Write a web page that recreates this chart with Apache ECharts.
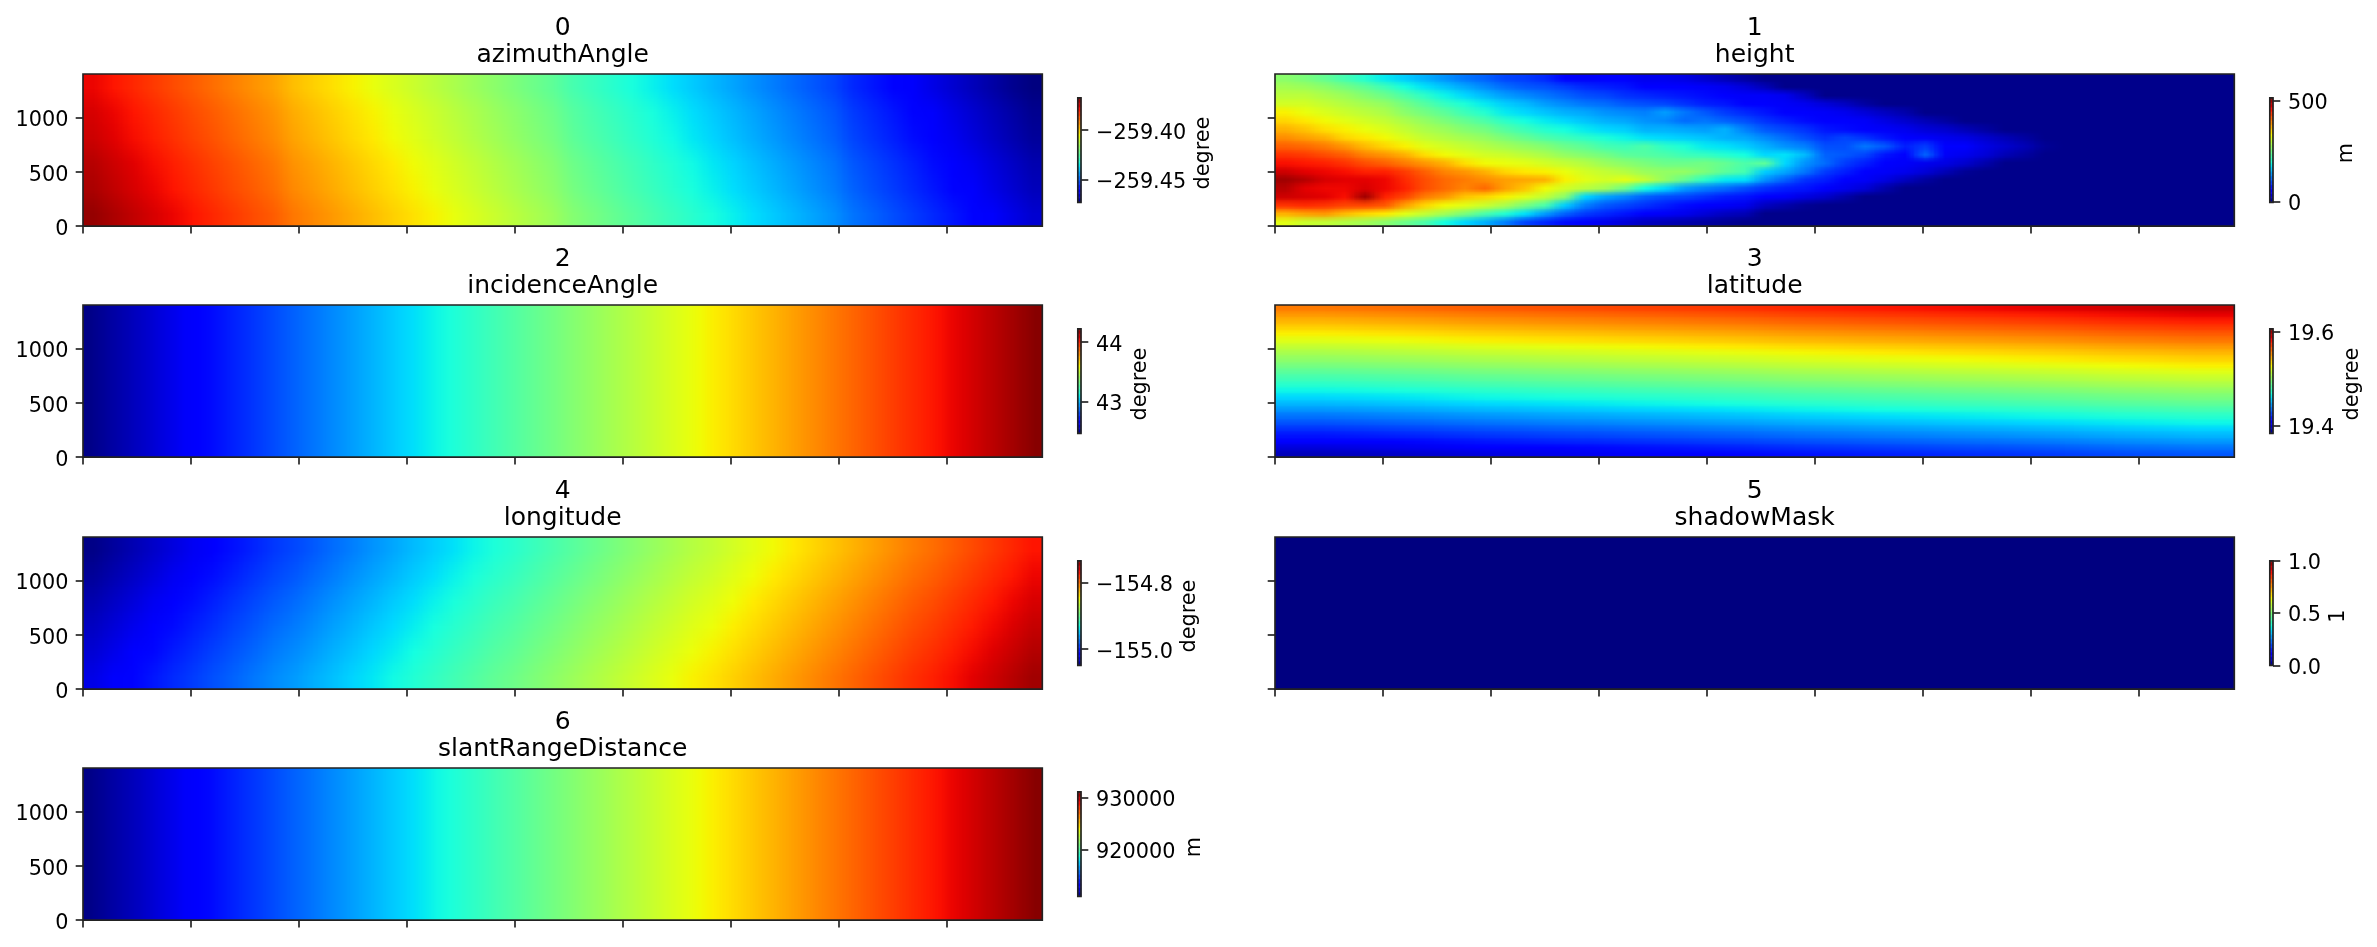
<!DOCTYPE html>
<html>
<head>
<meta charset="utf-8">
<style>html,body{margin:0;padding:0;background:#fff}#c{width:2377px;height:947px}</style>
<script src="https://cdn.jsdelivr.net/npm/echarts@6/dist/echarts.min.js"></script>
</head>
<body>
<div id="c"></div>
<script>
// rows run top to bottom, each row runs left to right
const azimuthRows = [
[-259.377,-259.379,-259.381,-259.383,-259.385,-259.387,-259.389,-259.391,-259.393,-259.395,-259.398,-259.400,-259.402,-259.404,-259.406,-259.408,-259.410,-259.412,-259.414,-259.416,-259.418,-259.420,-259.422,-259.424,-259.427,-259.429,-259.431,-259.433,-259.435,-259.437,-259.439,-259.441,-259.443,-259.445,-259.447,-259.449,-259.451,-259.453,-259.456,-259.458,-259.460,-259.462,-259.464,-259.466,-259.468,-259.470,-259.472,-259.474],
[-259.375,-259.377,-259.379,-259.381,-259.383,-259.385,-259.387,-259.389,-259.391,-259.393,-259.396,-259.398,-259.400,-259.402,-259.404,-259.406,-259.408,-259.410,-259.412,-259.414,-259.416,-259.418,-259.420,-259.422,-259.425,-259.427,-259.429,-259.431,-259.433,-259.435,-259.437,-259.439,-259.441,-259.443,-259.445,-259.447,-259.449,-259.451,-259.454,-259.456,-259.458,-259.460,-259.462,-259.464,-259.466,-259.468,-259.470,-259.472],
[-259.374,-259.376,-259.378,-259.380,-259.382,-259.384,-259.386,-259.388,-259.390,-259.392,-259.395,-259.397,-259.399,-259.401,-259.403,-259.405,-259.407,-259.409,-259.411,-259.413,-259.415,-259.417,-259.419,-259.421,-259.424,-259.426,-259.428,-259.430,-259.432,-259.434,-259.436,-259.438,-259.440,-259.442,-259.444,-259.446,-259.448,-259.450,-259.453,-259.455,-259.457,-259.459,-259.461,-259.463,-259.465,-259.467,-259.469,-259.471],
[-259.372,-259.374,-259.376,-259.378,-259.380,-259.382,-259.384,-259.386,-259.388,-259.390,-259.393,-259.395,-259.397,-259.399,-259.401,-259.403,-259.405,-259.407,-259.409,-259.411,-259.413,-259.415,-259.417,-259.419,-259.422,-259.424,-259.426,-259.428,-259.430,-259.432,-259.434,-259.436,-259.438,-259.440,-259.442,-259.444,-259.446,-259.448,-259.451,-259.453,-259.455,-259.457,-259.459,-259.461,-259.463,-259.465,-259.467,-259.469],
[-259.371,-259.373,-259.375,-259.377,-259.379,-259.381,-259.383,-259.385,-259.387,-259.389,-259.392,-259.394,-259.396,-259.398,-259.400,-259.402,-259.404,-259.406,-259.408,-259.410,-259.412,-259.414,-259.416,-259.418,-259.421,-259.423,-259.425,-259.427,-259.429,-259.431,-259.433,-259.435,-259.437,-259.439,-259.441,-259.443,-259.445,-259.447,-259.450,-259.452,-259.454,-259.456,-259.458,-259.460,-259.462,-259.464,-259.466,-259.468],
[-259.369,-259.371,-259.373,-259.375,-259.377,-259.379,-259.381,-259.383,-259.385,-259.387,-259.390,-259.392,-259.394,-259.396,-259.398,-259.400,-259.402,-259.404,-259.406,-259.408,-259.410,-259.412,-259.414,-259.416,-259.419,-259.421,-259.423,-259.425,-259.427,-259.429,-259.431,-259.433,-259.435,-259.437,-259.439,-259.441,-259.443,-259.445,-259.448,-259.450,-259.452,-259.454,-259.456,-259.458,-259.460,-259.462,-259.464,-259.466]
];
// height is listed column by column, each column top to bottom
const heightColumns = [
[265,280,295,310,335,350,370,390,415,440,460,480,500,490,480,440,370,320],
[255,275,295,310,325,340,360,380,410,435,455,470,490,470,475,445,380,305],
[240,265,285,300,315,330,345,370,400,425,450,465,475,465,470,440,385,300],
[220,250,275,290,305,320,335,350,385,415,440,460,470,465,460,430,365,290],
[200,235,260,280,295,310,325,340,365,395,425,450,470,475,500,430,350,280],
[180,215,245,270,285,300,315,330,350,385,415,450,465,465,450,420,340,265],
[165,190,225,250,265,285,300,315,335,370,400,435,445,450,430,380,320,245],
[150,175,205,230,250,270,285,300,320,345,385,415,425,425,400,350,300,225],
[135,160,185,210,235,255,275,290,310,330,370,395,410,410,385,330,280,190],
[120,145,170,195,215,240,260,280,300,320,345,385,400,395,360,320,255,170],
[110,130,155,180,200,225,250,270,290,310,330,370,390,410,350,305,225,150],
[95,115,140,165,180,205,230,255,280,305,325,350,380,380,335,285,200,125],
[90,105,130,155,170,190,215,240,270,295,320,340,375,360,320,255,175,95],
[80,100,120,140,160,180,200,225,260,285,310,335,370,330,300,225,140,80],
[60,90,110,130,150,170,190,215,245,270,300,325,335,310,265,165,110,65],
[50,80,100,120,145,160,180,205,235,260,290,310,320,295,170,125,90,55],
[55,75,95,115,135,150,170,195,220,250,275,300,310,280,145,105,80,45],
[55,70,85,105,130,145,165,185,215,235,265,290,320,245,130,95,70,35],
[45,60,80,100,125,135,150,175,225,230,255,275,300,190,110,85,60,25],
[45,60,75,95,140,130,150,170,205,225,245,270,270,170,100,75,50,20],
[40,55,70,85,120,115,145,165,195,215,245,270,240,140,95,65,45,15],
[30,50,65,75,105,120,140,160,180,210,250,255,205,125,85,60,35,10],
[20,45,55,70,90,110,150,150,175,200,240,235,180,115,75,50,25,5],
[10,35,50,60,80,100,125,145,165,190,225,220,175,100,70,45,20,0],
[0,20,50,55,70,85,105,130,150,170,235,165,135,85,60,25,0,0],
[0,0,45,50,60,75,95,115,135,175,170,145,110,75,50,15,0,0],
[0,0,25,45,55,65,85,100,125,155,135,120,85,70,40,5,0,0],
[0,0,0,35,50,60,70,85,100,110,115,90,75,60,30,0,0,0],
[0,0,0,25,45,55,65,95,100,105,90,75,60,45,15,0,0,0],
[0,0,0,10,35,50,60,85,120,95,75,60,50,35,0,0,0,0],
[0,0,0,0,25,40,50,70,105,70,60,50,40,15,0,0,0,0],
[0,0,0,0,15,30,45,55,75,60,50,45,25,0,0,0,0,0],
[0,0,0,0,0,20,35,50,90,110,45,35,10,0,0,0,0,0],
[0,0,0,0,0,10,30,45,55,50,40,20,0,0,0,0,0,0],
[0,0,0,0,0,0,20,40,55,45,30,5,0,0,0,0,0,0],
[0,0,0,0,0,0,10,30,40,35,15,0,0,0,0,0,0,0],
[0,0,0,0,0,0,0,20,30,20,0,0,0,0,0,0,0,0],
[0,0,0,0,0,0,0,10,20,10,0,0,0,0,0,0,0,0],
[0,0,0,0,0,0,0,0,5,0,0,0,0,0,0,0,0,0],
[0,0,0,0,0,0,0,0,0,0,0,0,0,0,0,0,0,0],
[0,0,0,0,0,0,0,0,0,0,0,0,0,0,0,0,0,0],
[0,0,0,0,0,0,0,0,0,0,0,0,0,0,0,0,0,0],
[0,0,0,0,0,0,0,0,0,0,0,0,0,0,0,0,0,0],
[0,0,0,0,0,0,0,0,0,0,0,0,0,0,0,0,0,0],
[0,0,0,0,0,0,0,0,0,0,0,0,0,0,0,0,0,0],
[0,0,0,0,0,0,0,0,0,0,0,0,0,0,0,0,0,0],
[0,0,0,0,0,0,0,0,0,0,0,0,0,0,0,0,0,0],
[0,0,0,0,0,0,0,0,0,0,0,0,0,0,0,0,0,0]
];
const incidenceRows = [
[42.486,42.508,42.530,42.552,42.574,42.595,42.617,42.639,42.661,42.683,42.705,42.727,42.749,42.770,42.792,42.814,42.836,42.858,42.880,42.902,42.924,42.945,42.967,42.989,43.011,43.033,43.055,43.077,43.099,43.120,43.142,43.164,43.186,43.208,43.230,43.252,43.274,43.295,43.317,43.339,43.361,43.383,43.405,43.427,43.449,43.470,43.492,43.514,43.536,43.558,43.580,43.602,43.624,43.645,43.667,43.689,43.711,43.733,43.755,43.777,43.799,43.820,43.842,43.864,43.886,43.908,43.930,43.952,43.974,43.995,44.017,44.039,44.061,44.083,44.105,44.127,44.149,44.170,44.192,44.214]
];
const latitudeRows = [
[19.557,19.560,19.564,19.567,19.570,19.573,19.577,19.580,19.583,19.586,19.590,19.593],
[19.550,19.553,19.557,19.560,19.563,19.566,19.570,19.573,19.576,19.579,19.583,19.586],
[19.543,19.546,19.550,19.553,19.556,19.559,19.563,19.566,19.569,19.572,19.576,19.579],
[19.536,19.539,19.543,19.546,19.549,19.552,19.556,19.559,19.562,19.565,19.569,19.572],
[19.529,19.532,19.536,19.539,19.542,19.545,19.549,19.552,19.555,19.558,19.562,19.565],
[19.522,19.525,19.529,19.532,19.535,19.538,19.542,19.545,19.548,19.551,19.555,19.558],
[19.514,19.517,19.521,19.524,19.527,19.530,19.534,19.537,19.540,19.543,19.547,19.550],
[19.507,19.510,19.514,19.517,19.520,19.523,19.527,19.530,19.533,19.536,19.540,19.543],
[19.500,19.503,19.507,19.510,19.513,19.516,19.520,19.523,19.526,19.529,19.533,19.536],
[19.493,19.496,19.500,19.503,19.506,19.509,19.513,19.516,19.519,19.522,19.526,19.529],
[19.486,19.489,19.493,19.496,19.499,19.502,19.506,19.509,19.512,19.515,19.519,19.522],
[19.479,19.482,19.486,19.489,19.492,19.495,19.499,19.502,19.505,19.508,19.512,19.515],
[19.472,19.475,19.479,19.482,19.485,19.488,19.492,19.495,19.498,19.501,19.505,19.508],
[19.465,19.468,19.472,19.475,19.478,19.481,19.485,19.488,19.491,19.494,19.498,19.501],
[19.458,19.461,19.465,19.468,19.471,19.474,19.478,19.481,19.484,19.487,19.491,19.494],
[19.451,19.454,19.458,19.461,19.464,19.467,19.471,19.474,19.477,19.480,19.484,19.487],
[19.444,19.447,19.451,19.454,19.457,19.460,19.464,19.467,19.470,19.473,19.477,19.480],
[19.436,19.439,19.443,19.446,19.449,19.452,19.456,19.459,19.462,19.465,19.469,19.472],
[19.429,19.432,19.436,19.439,19.442,19.445,19.449,19.452,19.455,19.458,19.462,19.465],
[19.422,19.425,19.429,19.432,19.435,19.438,19.442,19.445,19.448,19.451,19.455,19.458],
[19.415,19.418,19.422,19.425,19.428,19.431,19.435,19.438,19.441,19.444,19.448,19.451],
[19.408,19.411,19.415,19.418,19.421,19.424,19.428,19.431,19.434,19.437,19.441,19.444],
[19.401,19.404,19.408,19.411,19.414,19.417,19.421,19.424,19.427,19.430,19.434,19.437],
[19.394,19.397,19.401,19.404,19.407,19.410,19.414,19.417,19.420,19.423,19.427,19.430]
];
const longitudeRows = [
[-155.047,-155.041,-155.035,-155.029,-155.023,-155.017,-155.011,-155.005,-154.999,-154.993,-154.988,-154.982,-154.976,-154.970,-154.964,-154.958,-154.952,-154.946,-154.940,-154.934,-154.928,-154.923,-154.917,-154.911,-154.905,-154.899,-154.893,-154.887,-154.881,-154.875,-154.869,-154.864,-154.858,-154.852,-154.846,-154.840,-154.834,-154.828,-154.822,-154.816,-154.810,-154.804,-154.799,-154.793,-154.787,-154.781,-154.775,-154.769],
[-155.042,-155.036,-155.030,-155.024,-155.018,-155.012,-155.006,-155.000,-154.994,-154.988,-154.983,-154.977,-154.971,-154.965,-154.959,-154.953,-154.947,-154.941,-154.935,-154.929,-154.923,-154.918,-154.912,-154.906,-154.900,-154.894,-154.888,-154.882,-154.876,-154.870,-154.864,-154.859,-154.853,-154.847,-154.841,-154.835,-154.829,-154.823,-154.817,-154.811,-154.805,-154.799,-154.794,-154.788,-154.782,-154.776,-154.770,-154.764],
[-155.036,-155.030,-155.024,-155.018,-155.012,-155.006,-155.000,-154.994,-154.988,-154.982,-154.977,-154.971,-154.965,-154.959,-154.953,-154.947,-154.941,-154.935,-154.929,-154.923,-154.917,-154.912,-154.906,-154.900,-154.894,-154.888,-154.882,-154.876,-154.870,-154.864,-154.858,-154.853,-154.847,-154.841,-154.835,-154.829,-154.823,-154.817,-154.811,-154.805,-154.799,-154.793,-154.788,-154.782,-154.776,-154.770,-154.764,-154.758],
[-155.031,-155.025,-155.019,-155.013,-155.007,-155.001,-154.995,-154.989,-154.983,-154.977,-154.972,-154.966,-154.960,-154.954,-154.948,-154.942,-154.936,-154.930,-154.924,-154.918,-154.912,-154.907,-154.901,-154.895,-154.889,-154.883,-154.877,-154.871,-154.865,-154.859,-154.853,-154.848,-154.842,-154.836,-154.830,-154.824,-154.818,-154.812,-154.806,-154.800,-154.794,-154.788,-154.783,-154.777,-154.771,-154.765,-154.759,-154.753],
[-155.026,-155.020,-155.014,-155.008,-155.002,-154.996,-154.990,-154.984,-154.978,-154.972,-154.967,-154.961,-154.955,-154.949,-154.943,-154.937,-154.931,-154.925,-154.919,-154.913,-154.907,-154.902,-154.896,-154.890,-154.884,-154.878,-154.872,-154.866,-154.860,-154.854,-154.848,-154.843,-154.837,-154.831,-154.825,-154.819,-154.813,-154.807,-154.801,-154.795,-154.789,-154.783,-154.778,-154.772,-154.766,-154.760,-154.754,-154.748],
[-155.021,-155.015,-155.009,-155.003,-154.997,-154.991,-154.985,-154.979,-154.973,-154.967,-154.962,-154.956,-154.950,-154.944,-154.938,-154.932,-154.926,-154.920,-154.914,-154.908,-154.902,-154.897,-154.891,-154.885,-154.879,-154.873,-154.867,-154.861,-154.855,-154.849,-154.843,-154.838,-154.832,-154.826,-154.820,-154.814,-154.808,-154.802,-154.796,-154.790,-154.784,-154.778,-154.773,-154.767,-154.761,-154.755,-154.749,-154.743]
];
const shadowRows = [[0]];
const slantRows = [
[910970,911220,911480,911730,911980,912240,912490,912750,913000,913250,913510,913760,914020,914270,914520,914780,915030,915290,915540,915800,916050,916300,916560,916810,917070,917320,917570,917830,918080,918340,918590,918840,919100,919350,919610,919860,920110,920370,920620,920880,921130,921390,921640,921890,922150,922400,922660,922910,923160,923420,923670,923930,924180,924440,924690,924940,925200,925450,925710,925960,926210,926470,926720,926980,927230,927490,927740,927990,928250,928500,928760,929010,929260,929520,929770,930030,930280,930530,930790,931040]
];
const names = ['azimuthAngle','height','incidenceAngle','latitude','longitude','shadowMask','slantRangeDistance'];
const units = ['degree','m','degree','degree','degree','1','m'];
const colorMin = [-259.4735,-5,42.475,19.383,-155.049,0,910840];
const colorMax = [-259.367,515,44.225,19.606,-154.734,1,931170];
const colorTicks = [[-259.45,-259.40],[0,500],[43,44],[19.4,19.6],[-155.0,-154.8],[0,0.5,1],[920000,930000]];
const tickDecimals = [2,0,0,1,1,1,0];
const yTicks = [0,500,1000];
const xTicks = [0,1000,2000,3000,4000,5000,6000,7000,8000];
const tables = [azimuthRows, heightColumns[0].map((_,r)=>heightColumns.map(col=>col[r])), incidenceRows, latitudeRows, longitudeRows, shadowRows, slantRows];

// layout (pixels)
const lefts = [83,1275];
const tops = [74,305,537,768];
const W = 959.3, H = 152.2;
const unitX = [1204,2347,1141,2352.5,1190,2339,1195];
const FONT = 'DejaVu Sans';
const INK = '#222';
const tickRich = {t:{fontFamily:FONT,fontSize:20.8,color:'#000',padding:[6,0,0,0]}};

// matplotlib "jet"
function ramp(t,p){for(let i=1;i<p.length;i++){if(t<=p[i][0]){const a=p[i-1],b=p[i];return a[1]+(b[1]-a[1])*(t-a[0])/(b[0]-a[0]);}}return p[p.length-1][1];}
function jetRGB(t){t=Math.max(0,Math.min(1,t));return [
  Math.round(255*ramp(t,[[0,0],[.35,0],[.66,1],[.89,1],[1,.5]])),
  Math.round(255*ramp(t,[[0,0],[.125,0],[.375,1],[.64,1],[.91,0],[1,0]])),
  Math.round(255*ramp(t,[[0,.5],[.11,1],[.34,1],[.65,0],[1,0]]))];}
const jet=[];
for(let i=0;i<=200;i++){jet.push('rgb('+jetRGB(i/200).join(',')+')');}

// Like imshow: a panel's cells become a small picture that the browser shows with smooth scaling.
function panelPicture(rows,vmin,vmax){
  const nr=rows.length,nc=rows[0].length;
  const small=document.createElement('canvas');small.width=nc;small.height=nr;
  const sc=small.getContext('2d'),img=sc.createImageData(nc,nr);
  rows.forEach((rw,r)=>rw.forEach((v,c)=>{const q=jetRGB((v-vmin)/(vmax-vmin)),o=(r*nc+c)*4;
    img.data[o]=q[0];img.data[o+1]=q[1];img.data[o+2]=q[2];img.data[o+3]=255;}));
  sc.putImageData(img,0,0);
  const big=document.createElement('canvas');
  big.width=nc*Math.ceil(960/nc);big.height=nr*Math.ceil(304/nr);
  const bc=big.getContext('2d');bc.imageSmoothingEnabled=true;bc.imageSmoothingQuality='low';
  bc.drawImage(small,0,0,big.width,big.height);
  return big;
}

const grid=[],xAxis=[],yAxis=[],series=[],visualMap=[],title=[],graphic=[];
const seq=n=>Array.from({length:n},(_,i)=>i);
const hiddenCat=(gridIndex,n)=>({type:'category',gridIndex,show:false,data:seq(n)});
const tStyle={fontFamily:FONT,fontSize:25,fontWeight:'normal',color:'#000',lineHeight:30};

names.forEach((name,i)=>{
  const col=i%2,row=Math.floor(i/2),L=lefts[col],T=tops[row],rows=tables[i];
  const nr=rows.length,nc=rows[0].length;
  const g=grid.length;
  grid.push({left:L,top:T,width:W,height:H,show:true,z:5,backgroundColor:'transparent',borderColor:INK,borderWidth:1.67});
  const xi=xAxis.length,yi=yAxis.length;
  xAxis.push(hiddenCat(g,nc));
  yAxis.push(hiddenCat(g,nr));
  xAxis.push({type:'value',gridIndex:g,min:0,max:8890,position:'bottom',splitLine:{show:false},axisLine:{show:false},
    axisTick:{show:true,length:7.3,lineStyle:{color:INK,width:1.67},customValues:xTicks},axisLabel:{show:false}});
  yAxis.push({type:'value',gridIndex:g,min:0,max:1407,position:'left',splitLine:{show:false},axisLine:{show:false},
    axisTick:{show:true,length:7.3,lineStyle:{color:INK,width:1.67},customValues:yTicks},
    axisLabel:{show:col===0,margin:14.6,rich:tickRich,customValues:yTicks,formatter:v=>'{t|'+v+'}'}});
  const cells=[];
  rows.forEach((rw,r)=>rw.forEach((v,c)=>cells.push([c,nr-1-r,v])));
  const pic=panelPicture(rows,colorMin[i],colorMax[i]);
  const sw=pic.width/nc,sh=pic.height/nr;
  series.push({type:'custom',name,coordinateSystem:'cartesian2d',xAxisIndex:xi,yAxisIndex:yi,data:cells,encode:{x:0,y:1,tooltip:2},
    silent:true,clip:false,progressive:0,z:2,
    renderItem(params,api){
      const c=api.value(0),r=api.value(1);
      const p=api.coord([c,r]),s=api.size([1,1]);
      const x0=Math.floor(p[0]-s[0]/2),x1=Math.ceil(p[0]+s[0]/2),y0=Math.floor(p[1]-s[1]/2),y1=Math.ceil(p[1]+s[1]/2);
      return {type:'image',silent:true,style:{image:pic,x:x0,y:y0,width:x1-x0,height:y1-y0,
        sx:c*sw,sy:(nr-1-r)*sh,sWidth:sw,sHeight:sh}};
    }});
  title.push({text:String(i),left:L+W/2,top:T-60.5,textAlign:'center',textStyle:tStyle,padding:0});
  title.push({text:name,left:L+W/2,top:T-33.5,textAlign:'center',textStyle:tStyle,padding:0});
});
names.forEach((name,i)=>{
  const col=i%2,row=Math.floor(i/2),L=lefts[col],T=tops[row];
  // colour bar
  const g=grid.length,BX=L+W+35.5,BT=T+23.8,BH=104.6;
  grid.push({left:BX,top:BT,width:3.2,height:BH,show:true,z:5,backgroundColor:'transparent',borderColor:INK,borderWidth:1.67});
  const xi=xAxis.length,yi=yAxis.length,N=128;
  xAxis.push(hiddenCat(g,1));
  yAxis.push(hiddenCat(g,N));
  yAxis.push({type:'value',gridIndex:g,min:colorMin[i],max:colorMax[i],position:'right',splitLine:{show:false},axisLine:{show:false},
    axisTick:{show:true,length:7.3,lineStyle:{color:INK,width:1.67},customValues:colorTicks[i]},
    axisLabel:{show:true,margin:15,rich:tickRich,customValues:colorTicks[i],
      formatter:v=>'{t|'+Number(v).toFixed(tickDecimals[i]).replace('-','\u2212')+'}'}});
  const levels=seq(N).map(k=>[0,k,colorMin[i]+(colorMax[i]-colorMin[i])*(k+.5)/N]);
  series.push({type:'heatmap',name:name+' colorbar',xAxisIndex:xi,yAxisIndex:yi,data:levels,progressive:0,silent:true,emphasis:{disabled:true},itemStyle:{borderWidth:0}});
  visualMap.push({type:'continuous',show:false,min:colorMin[i],max:colorMax[i],dimension:2,seriesIndex:[i+7],inRange:{color:jet}});
  graphic.push({type:'text',x:unitX[i],y:BT+BH/2+3,rotation:Math.PI/2,silent:true,
    style:{text:units[i],fontFamily:FONT,fontSize:20.8,fill:'#000',align:'center',verticalAlign:'middle'}});
});

const chart=echarts.init(document.getElementById('c'),null,{renderer:'canvas',devicePixelRatio:1});
chart.setOption({animation:false,backgroundColor:'#fff',tooltip:{show:false},title,grid,xAxis,yAxis,visualMap,series,graphic});
</script>
</body>
</html>
